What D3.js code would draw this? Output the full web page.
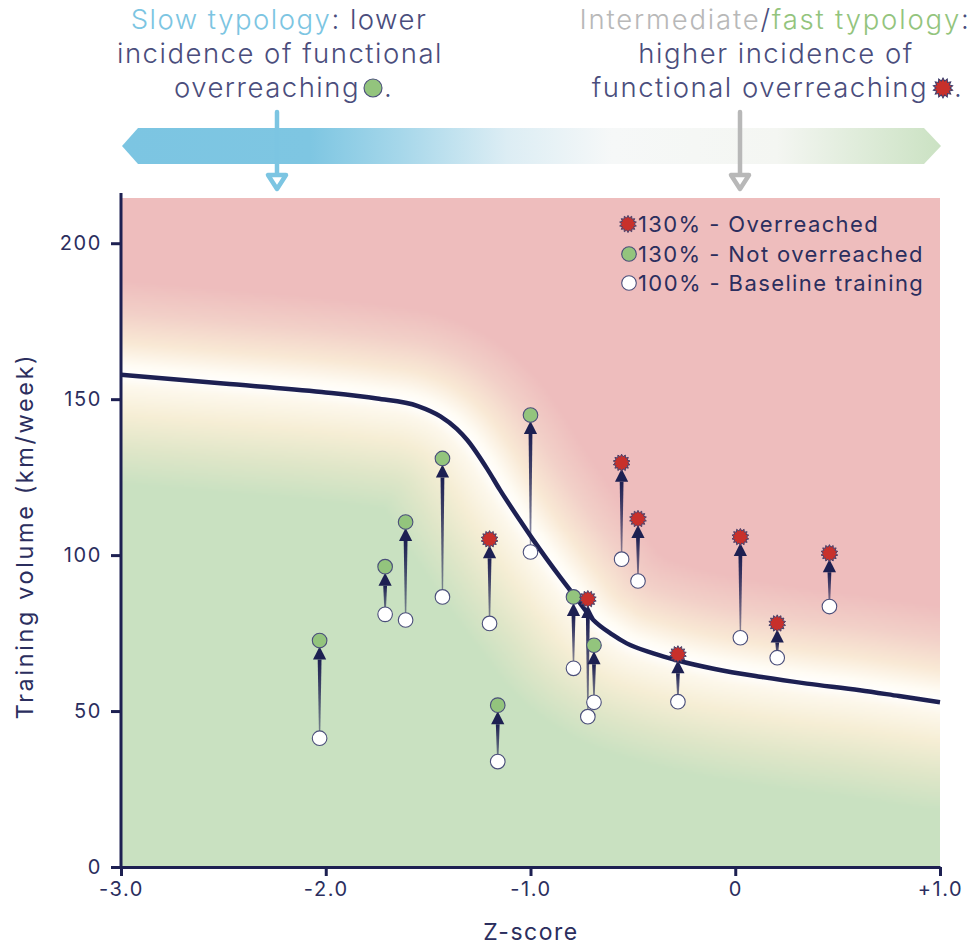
<!DOCTYPE html>
<html><head><meta charset="utf-8">
<script src="https://cdn.jsdelivr.net/npm/d3@7"></script>
<style>
html,body{margin:0;padding:0;background:#fff;}
svg{display:block;font-family:Inter,"Noto Sans",sans-serif;}
</style></head>
<body><svg id="chart" width="972" height="945"></svg>
<script>
// ---------- data ----------
const zScores     = [-2.03, -1.71, -1.61, -1.43, -1.20, -1.16, -1.00, -0.79, -0.72, -0.69, -0.555, -0.475, -0.28, 0.025, 0.205, 0.46];
const baseline    = [41.3, 81.0, 79.2, 86.6, 78.1, 33.8, 101.0, 63.7, 48.2, 52.8, 98.7, 91.7, 53.0, 73.5, 67.1, 83.5];
const overload    = [72.6, 96.3, 110.6, 131.0, 105.1, 51.9, 144.9, 86.6, 85.9, 71.1, 129.6, 111.6, 68.2, 105.8, 78.1, 100.6];
const overreached = [false, false, false, false, true, false, false, false, true, false, true, true, true, true, true, true];

const curveZ = [-3.0, -2.5, -2.02, -1.75, -1.55, -1.44, -1.36, -1.31, -1.21, -1.15, -1.05, -0.986, -0.856, -0.78, -0.693, -0.6, -0.53, -0.4, -0.286, -0.1, 0.121, 0.35, 0.609, 0.8, 1.0];
const curveV = [157.8, 155.0, 152.3, 150.2, 147.8, 144.5, 140.5, 137.0, 127.5, 121.0, 111.0, 104.8, 93.0, 86.5, 79.2, 74.5, 71.7, 68.5, 66.3, 63.5, 61.0, 58.8, 56.7, 54.8, 52.8];

const xTicks = [-3, -2, -1, 0, 1];
const xTickLabels = ["-3.0", "-2.0", "-1.0", "0", "+1.0"];
const yTicks = [0, 50, 100, 150, 200];

const legendLabels = ["130% - Overreached", "130% - Not overreached", "100% - Baseline training"];

// ---------- setup ----------
const navy = "#1d2052", textNavy = "#2b2e5e", annot = "#4a4d7c";
const blue = "#7cc5e2", gray = "#b8b8b8", green = "#93c47d", red = "#c8302b";
const svg = d3.select("#chart");
const L = 121, R = 940, T = 198, B = 867;
const x = d3.scaleLinear().domain([-3, 1]).range([L, R]);
const y = d3.scaleLinear().domain([0, 214.5]).range([B, T]);

const defs = svg.append("defs");

// ---------- top gradient bar ----------
const bg = defs.append("linearGradient").attr("id", "barGrad")
  .attr("gradientUnits", "userSpaceOnUse").attr("x1", 122).attr("x2", 940).attr("y1", 0).attr("y2", 0);
[[0, "#7cc5e2"], [0.23, "#7ec6e2"], [0.34, "#a6d7ea"], [0.47, "#dcedf4"], [0.6, "#f6f8f8"], [0.8, "#f4f6f2"], [1, "#cbe2c3"]]
  .forEach(([o, c]) => bg.append("stop").attr("offset", o).attr("stop-color", c));
svg.append("path").attr("d", "M122,146 L138,128 L924,128 L941,146 L924,164 L138,164 Z").attr("fill", "url(#barGrad)");

function annotArrow(cx, color) {
  const g = svg.append("g").attr("stroke", color).attr("fill", "none")
    .attr("stroke-width", 4.5).attr("stroke-linecap", "round").attr("stroke-linejoin", "round");
  g.append("line").attr("x1", cx).attr("x2", cx).attr("y1", 112).attr("y2", 174);
  g.append("path").attr("d", `M${cx - 9},175 L${cx + 9},175 L${cx},189 Z`);
}
annotArrow(277, blue);
annotArrow(740, gray);

// ---------- annotation texts ----------
const aFont = 27.5;
function atext(xp, yp, anchor) {
  return svg.append("text").attr("x", xp).attr("y", yp).attr("text-anchor", anchor)
    .attr("font-size", aFont).attr("font-weight", 300).attr("letter-spacing", 1.5).attr("fill", annot);
}
let t = atext(279, 29, "middle");
t.append("tspan").attr("fill", blue).text("Slow typology");
t.append("tspan").text(": lower");
atext(280, 63, "middle").text("incidence of functional");
atext(360, 97, "end").text("overreaching");
atext(384, 97, "start").text(".");

t = atext(775, 29, "middle").attr("letter-spacing", 1.8);
t.append("tspan").attr("fill", gray).text("Intermediate");
t.append("tspan").text("/");
t.append("tspan").attr("fill", green).text("fast typology");
t.append("tspan").text(":");
atext(776, 63, "middle").text("higher incidence of");
atext(928, 97, "end").text("functional overreaching");
atext(954, 97, "start").text(".");

// ---------- star path ----------
function starPath(r1, r2, n) {
  const pts = [];
  for (let i = 0; i < 2 * n; i++) {
    const a = Math.PI * i / n - Math.PI / 2;
    const r = i % 2 === 0 ? r1 : r2;
    pts.push([r * Math.cos(a), r * Math.sin(a)]);
  }
  return "M" + pts.map(p => p[0].toFixed(2) + "," + p[1].toFixed(2)).join("L") + "Z";
}
const starD = starPath(8.6, 6.2, 14);
function drawStar(g, cx, cy, s) {
  g.append("path").attr("d", starD).attr("transform", `translate(${cx},${cy}) scale(${s || 1})`)
    .attr("fill", red).attr("stroke", "#3a3d6c").attr("stroke-width", 0.9);
}
function drawCircle(g, cx, cy, fill, r) {
  g.append("circle").attr("cx", cx).attr("cy", cy).attr("r", r || 7.3)
    .attr("fill", fill).attr("stroke", "#4a4e7a").attr("stroke-width", 1.1);
}
drawCircle(svg, 373, 88, green, 9);
drawStar(svg, 943, 88, 1.15);

// ---------- plot background (field around curve) ----------
const bgImg = svg.append("image").attr("x", L).attr("y", T).attr("width", R - L).attr("height", B - T)
  .attr("preserveAspectRatio", "none");

const line = d3.line().x((d, i) => x(curveZ[i])).y((d, i) => y(curveV[i])).curve(d3.curveMonotoneX);
const curvePath = svg.append("path").attr("d", line(curveZ)).attr("fill", "none")
  .attr("stroke", navy).attr("stroke-width", 4.5).attr("stroke-linecap", "butt");

(function renderField() {
  const node = curvePath.node();
  const len = node.getTotalLength();
  const N = 600;
  const samples = [];
  for (let i = 0; i <= N; i++) { const p = node.getPointAtLength(len * i / N); samples.push([p.x, p.y]); }
  samples.sort((a, b) => a[0] - b[0]);
  const sx = samples.map(d => d[0]);
  function curveYAt(px) {
    if (px <= sx[0]) return samples[0][1];
    if (px >= sx[sx.length - 1]) return samples[samples.length - 1][1];
    const i = d3.bisectLeft(sx, px);
    const a = samples[i - 1], b = samples[i];
    const f = (px - a[0]) / Math.max(1e-6, b[0] - a[0]);
    return a[1] + f * (b[1] - a[1]);
  }
  const above = d3.scaleLinear().domain([0, 10, 32, 62, 95]).range(["#ffffff", "#fffcf4", "#f9e9d5", "#f2d0c8", "#eebdbd"]).clamp(true);
  const below = d3.scaleLinear().domain([0, 12, 40, 75, 110]).range(["#ffffff", "#fdf8ec", "#f6eed5", "#dfe6c8", "#c9e1c1"]).clamp(true);
  const sc = 2;
  const cw = Math.ceil((R - L) / sc), ch = Math.ceil((B - T) / sc);
  const c = document.createElement("canvas"); c.width = cw; c.height = ch;
  const ctx = c.getContext("2d");
  const img = ctx.createImageData(cw, ch);
  const cache = {};
  function rgb(col) { if (!cache[col]) { const q = d3.rgb(col); cache[col] = [q.r, q.g, q.b]; } return cache[col]; }
  for (let j = 0; j < ch; j++) {
    const py = T + (j + 0.5) * sc;
    for (let i = 0; i < cw; i++) {
      const px = L + (i + 0.5) * sc;
      let md = 1e9;
      const lo = d3.bisectLeft(sx, px - 130), hi = d3.bisectLeft(sx, px + 130);
      for (let k = Math.max(0, lo - 1); k < Math.min(samples.length, hi + 1); k++) {
        const dx = samples[k][0] - px, dy = samples[k][1] - py;
        const d = dx * dx + dy * dy; if (d < md) md = d;
      }
      md = Math.sqrt(Math.min(md, 1e6));
      const s = curveYAt(px) - py;
      const col = rgb(s >= 0 ? above(md) : below(md));
      const o = (j * cw + i) * 4;
      img.data[o] = col[0]; img.data[o + 1] = col[1]; img.data[o + 2] = col[2]; img.data[o + 3] = 255;
    }
  }
  ctx.putImageData(img, 0, 0);
  bgImg.attr("href", c.toDataURL());
})();

// ---------- axes ----------
const gx = svg.append("g").attr("transform", `translate(0,${B})`)
  .call(d3.axisBottom(x).tickValues(xTicks).tickFormat((d, i) => xTickLabels[i]).tickSize(9).tickSizeOuter(0));
const gy = svg.append("g").attr("transform", `translate(${L},0)`)
  .call(d3.axisLeft(y).tickValues(yTicks).tickSize(10).tickSizeOuter(0));
[gx, gy].forEach(g => {
  g.select(".domain").attr("stroke", navy).attr("stroke-width", 3);
  g.selectAll(".tick line").attr("stroke", navy).attr("stroke-width", 3);
  g.selectAll(".tick text").attr("fill", textNavy).attr("font-size", 20).attr("font-family", "Inter,sans-serif")
    .attr("font-weight", 400).attr("letter-spacing", 1.6);
});
gy.select(".domain").attr("d", `M0,${T - 5}V${B}`);
gy.selectAll(".tick text").attr("x", -19);
gx.selectAll(".tick text").attr("y", 15);

svg.append("text").attr("x", 531).attr("y", 940).attr("text-anchor", "middle")
  .attr("font-size", 23).attr("letter-spacing", 1.5).attr("fill", textNavy).text("Z-score");
svg.append("text").attr("transform", "translate(33,536) rotate(-90)").attr("text-anchor", "middle")
  .attr("font-size", 23.5).attr("letter-spacing", 2.6).attr("fill", textNavy).text("Training volume (km/week)");

// ---------- arrows & markers ----------
const sg = defs.append("linearGradient").attr("id", "shaftGrad").attr("x1", 0).attr("x2", 0).attr("y1", 0).attr("y2", 1);
sg.append("stop").attr("offset", 0).attr("stop-color", navy).attr("stop-opacity", 1);
sg.append("stop").attr("offset", 1).attr("stop-color", navy).attr("stop-opacity", 0.45);

const gA = svg.append("g");
zScores.forEach((z, i) => {
  const cx = x(z), yb = y(baseline[i]), yt = y(overload[i]);
  const tip = yt + 6, hb = yt + 19;
  gA.append("path").attr("d", `M${cx - 1.9},${hb} L${cx + 1.9},${hb} L${cx + 0.6},${yb} L${cx - 0.6},${yb} Z`)
    .attr("fill", "url(#shaftGrad)");
  gA.append("path").attr("d", `M${cx},${tip} L${cx + 6.6},${hb} L${cx - 6.6},${hb} Z`).attr("fill", navy);
});
const gM = svg.append("g");
zScores.forEach((z, i) => {
  const cx = x(z);
  drawCircle(gM, cx, y(baseline[i]), "#ffffff");
  if (overreached[i]) drawStar(gM, cx, y(overload[i]));
  else drawCircle(gM, cx, y(overload[i]), green);
});

// ---------- legend ----------
const lg = svg.append("g");
const ly = [224, 254, 283];
drawStar(lg, 628, ly[0]);
drawCircle(lg, 629, ly[1], green);
drawCircle(lg, 629, ly[2], "#ffffff");
legendLabels.forEach((s, i) => {
  lg.append("text").attr("x", 638).attr("y", ly[i]).attr("dy", "0.36em")
    .attr("font-size", 22).attr("letter-spacing", 1.4).attr("fill", textNavy).text(s);
});
</script></body></html>
